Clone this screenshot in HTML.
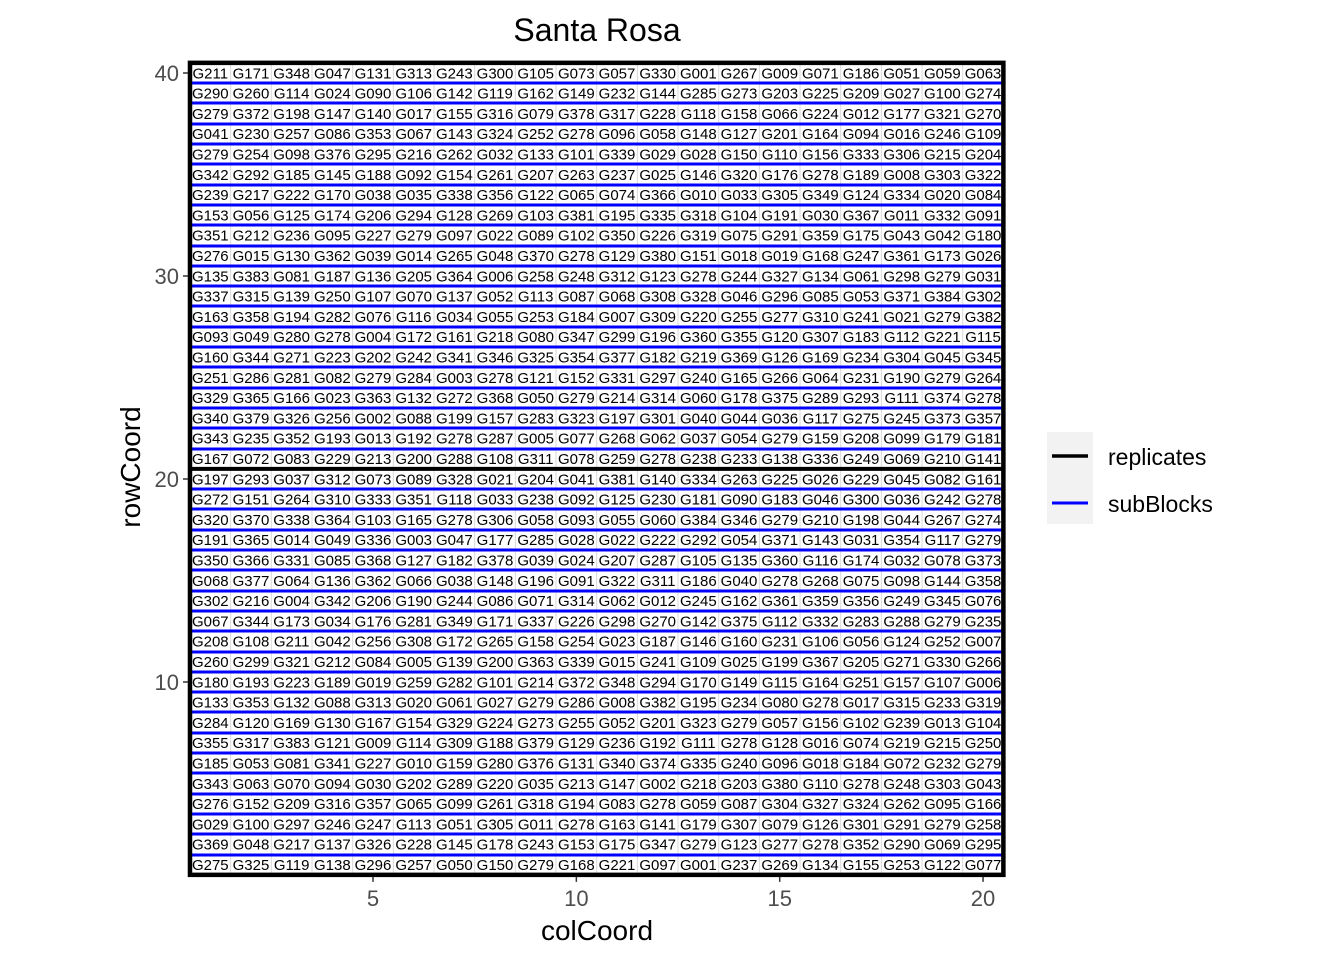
<!DOCTYPE html>
<html><head><meta charset="utf-8"><style>
body{margin:0;background:#fff}
svg{display:block;font-family:"Liberation Sans",Arial,sans-serif}
</style></head><body>
<svg id="chart" width="1344" height="960" viewBox="0 0 1344 960">
<text x="597" y="41" font-size="32" text-anchor="middle" fill="#000">Santa Rosa</text>
<text x="597" y="940" font-size="28" text-anchor="middle" fill="#000">colCoord</text>
<text transform="translate(140,467) rotate(-90)" font-size="28" text-anchor="middle" fill="#000">rowCoord</text>
<g id="cells"></g>
<g>
<rect x="1047" y="432" width="46" height="92" fill="#f2f2f2"/>
<line x1="1052" y1="456" x2="1088" y2="456" stroke="#000" stroke-width="3.5"/>
<line x1="1052" y1="503" x2="1088" y2="503" stroke="#0000ff" stroke-width="3"/>
<text x="1108" y="465" font-size="23" fill="#000">replicates</text>
<text x="1108" y="512" font-size="23" fill="#000">subBlocks</text>
</g>
</svg>
<script>
const rowsTopDown = [
"G211 G171 G348 G047 G131 G313 G243 G300 G105 G073 G057 G330 G001 G267 G009 G071 G186 G051 G059 G063",
"G290 G260 G114 G024 G090 G106 G142 G119 G162 G149 G232 G144 G285 G273 G203 G225 G209 G027 G100 G274",
"G279 G372 G198 G147 G140 G017 G155 G316 G079 G378 G317 G228 G118 G158 G066 G224 G012 G177 G321 G270",
"G041 G230 G257 G086 G353 G067 G143 G324 G252 G278 G096 G058 G148 G127 G201 G164 G094 G016 G246 G109",
"G279 G254 G098 G376 G295 G216 G262 G032 G133 G101 G339 G029 G028 G150 G110 G156 G333 G306 G215 G204",
"G342 G292 G185 G145 G188 G092 G154 G261 G207 G263 G237 G025 G146 G320 G176 G278 G189 G008 G303 G322",
"G239 G217 G222 G170 G038 G035 G338 G356 G122 G065 G074 G366 G010 G033 G305 G349 G124 G334 G020 G084",
"G153 G056 G125 G174 G206 G294 G128 G269 G103 G381 G195 G335 G318 G104 G191 G030 G367 G011 G332 G091",
"G351 G212 G236 G095 G227 G279 G097 G022 G089 G102 G350 G226 G319 G075 G291 G359 G175 G043 G042 G180",
"G276 G015 G130 G362 G039 G014 G265 G048 G370 G278 G129 G380 G151 G018 G019 G168 G247 G361 G173 G026",
"G135 G383 G081 G187 G136 G205 G364 G006 G258 G248 G312 G123 G278 G244 G327 G134 G061 G298 G279 G031",
"G337 G315 G139 G250 G107 G070 G137 G052 G113 G087 G068 G308 G328 G046 G296 G085 G053 G371 G384 G302",
"G163 G358 G194 G282 G076 G116 G034 G055 G253 G184 G007 G309 G220 G255 G277 G310 G241 G021 G279 G382",
"G093 G049 G280 G278 G004 G172 G161 G218 G080 G347 G299 G196 G360 G355 G120 G307 G183 G112 G221 G115",
"G160 G344 G271 G223 G202 G242 G341 G346 G325 G354 G377 G182 G219 G369 G126 G169 G234 G304 G045 G345",
"G251 G286 G281 G082 G279 G284 G003 G278 G121 G152 G331 G297 G240 G165 G266 G064 G231 G190 G279 G264",
"G329 G365 G166 G023 G363 G132 G272 G368 G050 G279 G214 G314 G060 G178 G375 G289 G293 G111 G374 G278",
"G340 G379 G326 G256 G002 G088 G199 G157 G283 G323 G197 G301 G040 G044 G036 G117 G275 G245 G373 G357",
"G343 G235 G352 G193 G013 G192 G278 G287 G005 G077 G268 G062 G037 G054 G279 G159 G208 G099 G179 G181",
"G167 G072 G083 G229 G213 G200 G288 G108 G311 G078 G259 G278 G238 G233 G138 G336 G249 G069 G210 G141",
"G197 G293 G037 G312 G073 G089 G328 G021 G204 G041 G381 G140 G334 G263 G225 G026 G229 G045 G082 G161",
"G272 G151 G264 G310 G333 G351 G118 G033 G238 G092 G125 G230 G181 G090 G183 G046 G300 G036 G242 G278",
"G320 G370 G338 G364 G103 G165 G278 G306 G058 G093 G055 G060 G384 G346 G279 G210 G198 G044 G267 G274",
"G191 G365 G014 G049 G336 G003 G047 G177 G285 G028 G022 G222 G292 G054 G371 G143 G031 G354 G117 G279",
"G350 G366 G331 G085 G368 G127 G182 G378 G039 G024 G207 G287 G105 G135 G360 G116 G174 G032 G078 G373",
"G068 G377 G064 G136 G362 G066 G038 G148 G196 G091 G322 G311 G186 G040 G278 G268 G075 G098 G144 G358",
"G302 G216 G004 G342 G206 G190 G244 G086 G071 G314 G062 G012 G245 G162 G361 G359 G356 G249 G345 G076",
"G067 G344 G173 G034 G176 G281 G349 G171 G337 G226 G298 G270 G142 G375 G112 G332 G283 G288 G279 G235",
"G208 G108 G211 G042 G256 G308 G172 G265 G158 G254 G023 G187 G146 G160 G231 G106 G056 G124 G252 G007",
"G260 G299 G321 G212 G084 G005 G139 G200 G363 G339 G015 G241 G109 G025 G199 G367 G205 G271 G330 G266",
"G180 G193 G223 G189 G019 G259 G282 G101 G214 G372 G348 G294 G170 G149 G115 G164 G251 G157 G107 G006",
"G133 G353 G132 G088 G313 G020 G061 G027 G279 G286 G008 G382 G195 G234 G080 G278 G017 G315 G233 G319",
"G284 G120 G169 G130 G167 G154 G329 G224 G273 G255 G052 G201 G323 G279 G057 G156 G102 G239 G013 G104",
"G355 G317 G383 G121 G009 G114 G309 G188 G379 G129 G236 G192 G111 G278 G128 G016 G074 G219 G215 G250",
"G185 G053 G081 G341 G227 G010 G159 G280 G376 G131 G340 G374 G335 G240 G096 G018 G184 G072 G232 G279",
"G343 G063 G070 G094 G030 G202 G289 G220 G035 G213 G147 G002 G218 G203 G380 G110 G278 G248 G303 G043",
"G276 G152 G209 G316 G357 G065 G099 G261 G318 G194 G083 G278 G059 G087 G304 G327 G324 G262 G095 G166",
"G029 G100 G297 G246 G247 G113 G051 G305 G011 G278 G163 G141 G179 G307 G079 G126 G301 G291 G279 G258",
"G369 G048 G217 G137 G326 G228 G145 G178 G243 G153 G175 G347 G279 G123 G277 G278 G352 G290 G069 G295",
"G275 G325 G119 G138 G296 G257 G050 G150 G279 G168 G221 G097 G001 G237 G269 G134 G155 G253 G122 G077"
];
const xTicks = [5,10,15,20];
const yTicks = [10,20,30,40];
const replicateBoundaries = [20.5];
const nRows = 40, nCols = 20;

const NS="http://www.w3.org/2000/svg";
const svg=document.getElementById('chart');
const g=document.getElementById('cells');
const xs=c=>373+(c-5)*40.67;
const ys=r=>73+(40-r)*20.3;
function mk(t,a,p){const e=document.createElementNS(NS,t);for(const k in a)e.setAttribute(k,a[k]);(p||g).appendChild(e);return e;}

const bg=mk('rect',{x:xs(0.5),y:ys(40.5),width:xs(20.5)-xs(0.5),height:ys(0.5)-ys(40.5),fill:'#fff'});


for(let c=1;c<nCols;c++){
  const l=mk('line',{x1:xs(c+0.5),x2:xs(c+0.5),y1:ys(40.5),y2:ys(0.5),stroke:'#d9d9d9','stroke-width':1});
  
  
}
rowsTopDown.forEach((line,i)=>{
  const r=nRows-i;
  line.split(' ').forEach((lab,j)=>{
    const c=j+1;
    const t=mk('text',{x:xs(c),y:ys(r)+5.3,'font-size':15,'text-anchor':'middle',fill:'#000'});
    t.textContent=lab;
    
    
  });
});
for(let r=1;r<nRows;r++){
  const yb=r+0.5;
  if(replicateBoundaries.includes(yb))continue;
  const l=mk('line',{x1:xs(0.5),x2:xs(20.5),y1:Math.round(ys(yb)),y2:Math.round(ys(yb)),stroke:'#0000ff','stroke-width':3});
  
  
}
replicateBoundaries.forEach(yb=>{
  const l=mk('line',{x1:xs(0.5),x2:xs(20.5),y1:ys(yb),y2:ys(yb),stroke:'#000','stroke-width':4});
  
  
});
const border=mk('rect',{x:xs(0.5),y:ys(40.5),width:xs(20.5)-xs(0.5),height:ys(0.5)-ys(40.5),fill:'none',stroke:'#000','stroke-width':4.5});


xTicks.forEach(v=>{
  const l=mk('line',{x1:xs(v),x2:xs(v),y1:ys(0.5)+2,y2:ys(0.5)+7,stroke:'#333','stroke-width':1.5},svg);
  
  
  const t=mk('text',{x:xs(v),y:906,'font-size':22,'text-anchor':'middle',fill:'#4d4d4d'},svg);
  t.textContent=v;
  
  
});
yTicks.forEach(v=>{
  const l=mk('line',{x1:xs(0.5)-7,x2:xs(0.5)-2,y1:ys(v),y2:ys(v),stroke:'#333','stroke-width':1.5},svg);
  
  
  const t=mk('text',{x:179,y:ys(v)+8,'font-size':22,'text-anchor':'end',fill:'#4d4d4d'},svg);
  t.textContent=v;
  
  
});
</script>
</body></html>
